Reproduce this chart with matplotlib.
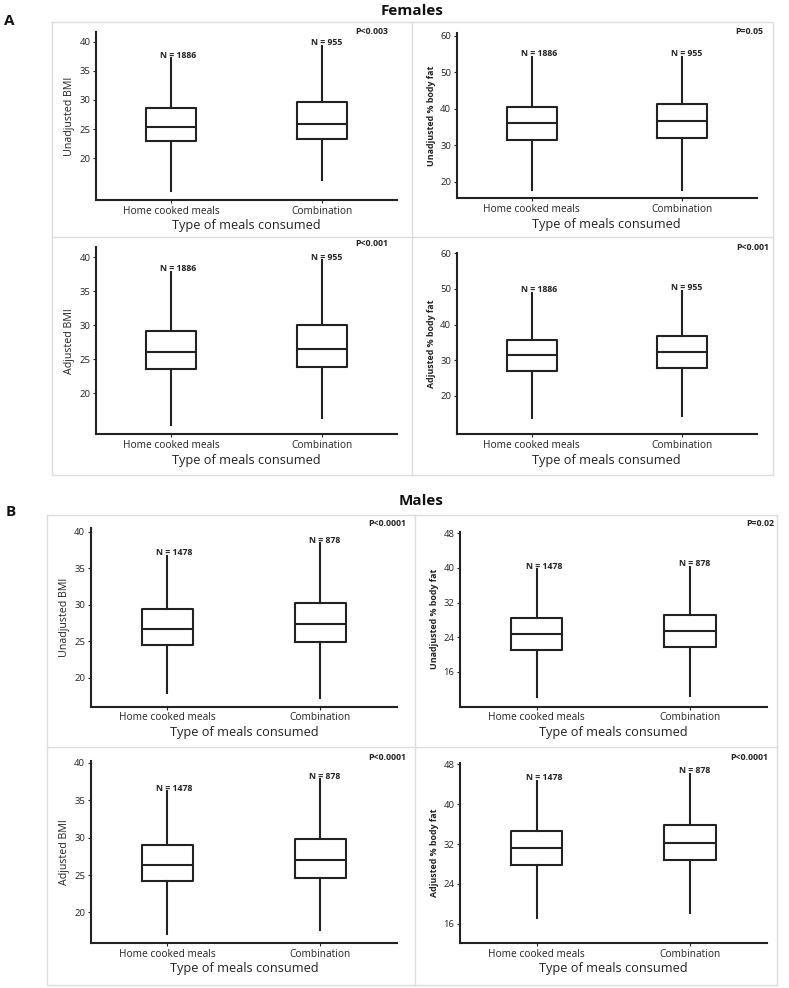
import matplotlib.pyplot as plt
from matplotlib.lines import Line2D

W, H = 789, 988

groups = ["Home cooked meals", "Combination"]

# box stats per group: [lower whisker, Q1, median, Q3, upper whisker]
fem_unadj_bmi = [[14.4, 22.9, 25.4, 28.6, 37.2], [16.3, 23.3, 25.9, 29.7, 39.3]]
fem_unadj_fat = [[17.7, 31.4, 36.2, 40.6, 54.3], [17.6, 32.0, 36.7, 41.3, 54.3]]
fem_adj_bmi = [[15.4, 23.6, 26.1, 29.2, 37.9], [16.3, 23.9, 26.5, 30.0, 39.6]]
fem_adj_fat = [[13.7, 26.9, 31.4, 35.8, 48.9], [14.3, 27.7, 32.3, 36.8, 49.5]]
male_unadj_bmi = [[17.9, 24.5, 26.7, 29.4, 36.7], [17.2, 24.9, 27.3, 30.3, 38.4]]
male_unadj_fat = [[10.2, 21.0, 24.8, 28.5, 39.7], [10.4, 21.7, 25.4, 29.1, 40.3]]
male_adj_bmi = [[17.1, 24.2, 26.4, 29.0, 36.2], [17.7, 24.6, 27.0, 29.8, 37.8]]
male_adj_fat = [[17.2, 27.8, 31.2, 34.7, 44.7], [18.2, 28.7, 32.3, 35.8, 46.1]]

fem_n = ["N = 1886", "N = 955"]
male_n = ["N = 1478", "N = 878"]

p_values = ["P<0.003", "P=0.05", "P<0.001", "P<0.001",
            "P<0.0001", "P=0.02", "P<0.0001", "P<0.0001"]

bmi_ticks = [20, 25, 30, 35, 40]
fem_fat_ticks = [20, 30, 40, 50, 60]
male_fat_ticks = [16, 24, 32, 40, 48]

plt.rcParams['font.family'] = ['Open Sans', 'DejaVu Sans']
fig = plt.figure(figsize=(W / 100, H / 100), dpi=100)
fig.patch.set_facecolor("white")

dark = "#222222"


def px_axes(l, t, r, b):
    return fig.add_axes([l / W, 1 - b / H, (r - l) / W, (b - t) / H])


def fig_line(xs, ys):
    fig.add_artist(Line2D([x / W for x in xs], [1 - y / H for y in ys],
                          color="#dcdcdc", lw=1.0, transform=fig.transFigure))


def panel(box, data, ylim, yticks, ylabel, bold_label, nlabels):
    ax = px_axes(*box)
    stats = []
    for g, d in zip(groups, data):
        stats.append(dict(label=g, whislo=d[0], q1=d[1], med=d[2], q3=d[3], whishi=d[4]))
    ax.bxp(stats, positions=[1, 2], widths=0.333, showfliers=False, showcaps=False,
           boxprops=dict(color=dark, lw=1.5),
           whiskerprops=dict(color=dark, lw=1.5),
           medianprops=dict(color=dark, lw=1.5))
    ax.set_xlim(0.5, 2.5)
    ax.set_ylim(*ylim)
    ax.set_yticks(yticks)
    ax.set_xticks([1, 2])
    ax.set_xticklabels(groups)
    for s in ["top", "right"]:
        ax.spines[s].set_visible(False)
    for s in ["left", "bottom"]:
        ax.spines[s].set_color(dark)
        ax.spines[s].set_linewidth(1.5)
    ax.tick_params(axis="both", colors=dark, length=2.5, width=0.8, pad=1.5)
    ax.tick_params(axis="y", labelsize=6.8)
    ax.tick_params(axis="x", labelsize=7.3)
    ax.set_xlabel("Type of meals consumed", fontsize=9.2, color=dark, labelpad=2)
    ax.set_ylabel(ylabel, fontsize=6.4 if bold_label else 7.7, color=dark,
                  fontweight="bold" if bold_label else "normal", labelpad=3)
    for i, d in enumerate(data):
        ax.annotate(nlabels[i], xy=(i + 1, d[4]), xytext=(-11, 3),
                    textcoords="offset pixels", ha="left", va="center",
                    fontsize=6.3, fontweight="bold", color=dark)
    return ax


panel((96, 32, 397, 200), fem_unadj_bmi, (12.85, 41.66), bmi_ticks,
      "Unadjusted BMI", False, fem_n)
panel((456.7, 33.3, 756.7, 198.3), fem_unadj_fat, (15.4, 60.7), fem_fat_ticks,
      "Unadjusted % body fat", True, fem_n)
panel((96, 247.3, 397, 434.3), fem_adj_bmi, (13.97, 41.47), bmi_ticks,
      "Adjusted BMI", False, fem_n)
panel((456.7, 252.7, 756.7, 434.3), fem_adj_fat, (9.16, 60.2), fem_fat_ticks,
      "Adjusted % body fat", True, fem_n)
panel((90.7, 528.3, 397, 706.7), male_unadj_bmi, (16.03, 40.47), bmi_ticks,
      "Unadjusted BMI", False, male_n)
panel((460, 531.7, 766.7, 706.7), male_unadj_fat, (7.9, 48.4), male_fat_ticks,
      "Unadjusted % body fat", True, male_n)
panel((90.7, 760.7, 397, 943), male_adj_bmi, (15.9, 40.3), bmi_ticks,
      "Adjusted BMI", False, male_n)
panel((460, 763, 766.7, 943), male_adj_fat, (12.1, 48.3), male_fat_ticks,
      "Adjusted % body fat", True, male_n)

# panel frames
fig_line([52, 773, 773, 52, 52], [22, 22, 475, 475, 22])
fig_line([52, 773], [237, 237])
fig_line([412, 412], [22, 475])
fig_line([47, 777, 777, 47, 47], [515, 515, 985, 985, 515])
fig_line([47, 777], [747, 747])
fig_line([415, 415], [515, 985])

# p-values, right aligned in each panel
p_pos = [(388, 31), (763, 32), (388, 244), (769, 247),
         (406, 523), (774, 523), (406, 758), (768, 757)]
for txt, (x, y) in zip(p_values, p_pos):
    fig.text(x / W, 1 - y / H, txt, ha="right", va="center",
             fontsize=6.3, fontweight="bold", color=dark)

fig.text(412 / W, 1 - 11 / H, "Females", ha="center", va="center",
         fontsize=11, fontweight="bold", color="#111111")
fig.text(421 / W, 1 - 501 / H, "Males", ha="center", va="center",
         fontsize=11, fontweight="bold", color="#111111")
fig.text(9 / W, 1 - 21 / H, "A", ha="center", va="center",
         fontsize=11, fontweight="bold", color="#111111")
fig.text(11 / W, 1 - 512 / H, "B", ha="center", va="center",
         fontsize=11, fontweight="bold", color="#111111")

fig.savefig("out.png", dpi=100, facecolor="white")
